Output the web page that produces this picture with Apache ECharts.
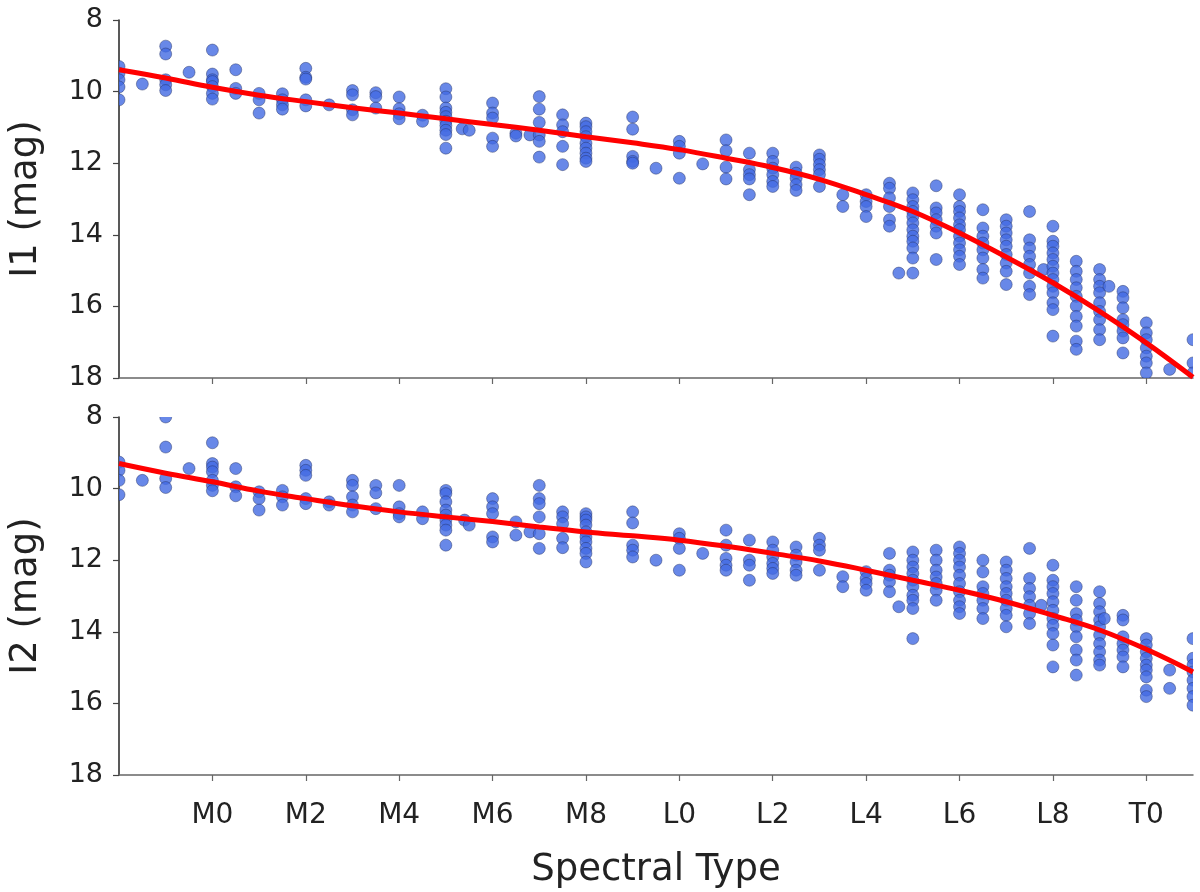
<!DOCTYPE html>
<html>
<head>
<meta charset="utf-8">
<script src="https://cdn.jsdelivr.net/npm/echarts@6/dist/echarts.min.js"></script>
<style>
html,body{margin:0;padding:0;background:#fff;}
#chart{width:1200px;height:892px;}
</style>
</head>
<body>
<div id="chart"></div>
<script>
// ---- Data ----
var tickValues = [0, 2, 4, 6, 8, 10, 12, 14, 16, 18, 20];
var tickLabels = ['M0', 'M2', 'M4', 'M6', 'M8', 'L0', 'L2', 'L4', 'L6', 'L8', 'T0'];

// [spectral type index, magnitude]
var i1Points = [
  [-2,9.30],[-2,9.49],[-2,9.67],[-2,9.87],[-2,10.23],
  [-1.5,9.79],
  [-1,8.73],[-1,8.95],[-1,9.67],[-1,9.81],[-1,9.97],
  [-0.5,9.46],
  [0,8.84],[0,9.51],[0,9.67],[0,9.72],[0,9.86],[0,10.05],[0,10.21],
  [0.5,9.39],[0.5,9.91],[0.5,10.05],
  [1,10.05],[1,10.23],[1,10.60],
  [1.5,10.06],[1.5,10.23],[1.5,10.37],[1.5,10.49],
  [2,9.35],[2,9.60],[2,9.65],[2,10.23],[2,10.40],
  [2.5,10.37],
  [3,9.97],[3,10.09],[3,10.51],[3,10.65],
  [3.5,10.03],[3.5,10.14],[3.5,10.46],
  [4,10.15],[4,10.48],[4,10.62],[4,10.76],
  [4.5,10.66],[4.5,10.83],
  [5,9.92],[5,10.15],[5,10.46],[5,10.58],[5,10.70],[5,10.83],[5,10.95],[5,11.08],[5,11.20],[5,11.58],
  [5.35,11.04],[5.5,11.08],
  [6,10.32],[6,10.60],[6,10.74],[6,11.30],[6,11.53],
  [6.5,11.16],[6.5,11.24],[6.8,11.21],
  [7,10.14],[7,10.49],[7,10.86],[7,11.21],[7,11.39],[7,11.83],
  [7.5,10.65],[7.5,10.93],[7.5,11.12],[7.5,11.53],[7.5,12.04],
  [8,10.88],[8,10.98],[8,11.12],[8,11.26],[8,11.44],[8,11.58],[8,11.72],[8,11.86],[8,11.95],
  [9,10.71],[9,11.05],[9,11.81],[9,11.95],[9,12.00],
  [9.5,12.14],
  [10,11.39],[10,11.53],[10,11.72],[10,12.42],
  [10.5,12.02],
  [11,11.35],[11,11.65],[11,12.11],[11,12.44],
  [11.5,11.72],[11.5,12.18],[11.5,12.32],[11.5,12.44],[11.5,12.88],
  [12,11.72],[12,11.95],[12,12.14],[12,12.32],[12,12.51],[12,12.65],
  [12.5,12.11],[12.5,12.28],[12.5,12.42],[12.5,12.60],[12.5,12.76],
  [13,11.77],[13,11.89],[13,12.04],[13,12.18],[13,12.32],[13,12.65],
  [13.5,12.88],[13.5,13.21],
  [14,12.88],[14,13.07],[14,13.21],[14,13.49],
  [14.5,12.56],[14.5,12.70],[14.5,12.97],[14.5,13.21],[14.5,13.58],[14.5,13.76],
  [14.7,15.07],
  [15,12.83],[15,13.02],[15,13.21],[15,13.35],[15,13.49],[15,13.67],[15,13.86],[15,14.04],[15,14.18],[15,14.37],[15,14.65],[15,15.07],
  [15.5,12.63],[15.5,13.25],[15.5,13.39],[15.5,13.58],[15.5,13.76],[15.5,13.95],[15.5,14.69],
  [16,12.88],[16,13.21],[16,13.35],[16,13.53],[16,13.72],[16,13.86],[16,14.04],[16,14.23],[16,14.42],[16,14.60],[16,14.83],
  [16.5,13.30],[16.5,13.81],[16.5,14.04],[16.5,14.23],[16.5,14.42],[16.5,14.65],[16.5,14.97],[16.5,15.21],
  [17,13.58],[17,13.76],[17,13.95],[17,14.14],[17,14.32],[17,14.55],[17,14.79],[17,15.02],[17,15.39],
  [17.5,13.35],[17.5,14.14],[17.5,14.37],[17.5,14.60],[17.5,14.83],[17.5,15.07],[17.5,15.44],[17.5,15.67],
  [17.8,14.97],
  [18,13.76],[18,14.18],[18,14.32],[18,14.51],[18,14.69],[18,14.88],[18,15.07],[18,15.25],[18,15.44],[18,15.62],[18,15.90],[18,16.09],[18,16.83],
  [18.5,14.74],[18.5,15.02],[18.5,15.25],[18.5,15.48],[18.5,15.72],[18.5,15.99],[18.5,16.28],[18.5,16.55],[18.5,16.97],[18.5,17.20],
  [19,14.97],[19,15.25],[19,15.44],[19,15.62],[19,15.90],[19,16.14],[19,16.37],[19,16.65],[19,16.93],
  [19.2,15.44],
  [19.5,15.58],[19.5,15.76],[19.5,16.04],[19.5,16.37],[19.5,16.51],[19.5,16.69],[19.5,16.88],[19.5,17.30],
  [20,16.46],[20,16.74],[20,16.93],[20,17.16],[20,17.39],[20,17.58],[20,17.86],
  [20.5,17.76],
  [21,16.93],[21,17.58],[21,17.86]
];

var i2Points = [
  [-2,9.26],[-2,9.49],[-2,9.77],[-2,10.17],
  [-1.5,9.77],
  [-1,8.0],[-1,8.84],[-1,9.72],[-1,9.97],
  [-0.5,9.44],
  [0,8.72],[0,9.30],[0,9.40],[0,9.53],[0,9.77],[0,9.91],[0,10.06],
  [0.5,9.44],[0.5,9.95],[0.5,10.20],
  [1,10.09],[1,10.28],[1,10.60],
  [1.5,10.05],[1.5,10.23],[1.5,10.46],
  [2,9.35],[2,9.49],[2,9.63],[2,10.28],[2,10.42],
  [2.5,10.37],[2.5,10.46],
  [3,9.77],[3,9.91],[3,10.23],[3,10.46],[3,10.65],
  [3.5,9.91],[3.5,10.12],[3.5,10.56],
  [4,9.91],[4,10.51],[4,10.70],[4,10.79],
  [4.5,10.65],[4.5,10.84],
  [5,10.05],[5,10.14],[5,10.37],[5,10.60],[5,10.74],[5,10.88],[5,11.02],[5,11.16],[5,11.58],
  [5.4,10.88],[5.5,11.02],
  [6,10.28],[6,10.51],[6,10.70],[6,11.35],[6,11.49],
  [6.5,10.93],[6.5,11.30],[6.8,11.21],
  [7,9.91],[7,10.28],[7,10.42],[7,10.79],[7,11.26],[7,11.67],
  [7.5,10.65],[7.5,10.79],[7.5,10.98],[7.5,11.39],[7.5,11.65],
  [8,10.70],[8,10.79],[8,10.88],[8,11.02],[8,11.21],[8,11.35],[8,11.49],[8,11.67],[8,11.81],[8,12.05],
  [9,10.65],[9,10.96],[9,11.58],[9,11.72],[9,11.91],
  [9.5,12.00],
  [10,11.26],[10,11.39],[10,11.67],[10,12.28],
  [10.5,11.81],
  [11,11.16],[11,11.58],[11,11.95],[11,12.14],[11,12.28],
  [11.5,11.44],[11.5,12.00],[11.5,12.14],[11.5,12.56],
  [12,11.49],[12,11.72],[12,11.91],[12,12.09],[12,12.23],[12,12.37],
  [12.5,11.63],[12.5,11.86],[12.5,12.05],[12.5,12.28],[12.5,12.42],
  [13,11.39],[13,11.58],[13,11.72],[13,12.28],
  [13.5,12.46],[13.5,12.74],
  [14,12.32],[14,12.51],[14,12.65],[14,12.84],
  [14.5,11.81],[14.5,12.28],[14.5,12.42],[14.5,12.60],[14.5,12.88],
  [14.7,13.30],
  [15,11.77],[15,12.00],[15,12.19],[15,12.37],[15,12.56],[15,12.74],[15,12.98],[15,13.12],[15,13.35],[15,14.19],
  [15.5,11.72],[15.5,12.00],[15.5,12.28],[15.5,12.47],[15.5,12.65],[15.5,12.84],[15.5,13.12],
  [16,11.63],[16,11.81],[16,12.00],[16,12.19],[16,12.42],[16,12.65],[16,12.88],[16,13.12],[16,13.30],[16,13.49],
  [16.5,12.00],[16.5,12.33],[16.5,12.74],[16.5,12.93],[16.5,13.12],[16.5,13.35],[16.5,13.63],
  [17,12.05],[17,12.28],[17,12.51],[17,12.74],[17,12.93],[17,13.12],[17,13.35],[17,13.54],[17,13.86],
  [17.5,11.67],[17.5,12.51],[17.5,12.79],[17.5,13.02],[17.5,13.26],[17.5,13.49],[17.5,13.77],
  [17.75,13.26],
  [18,12.14],[18,12.56],[18,12.74],[18,12.93],[18,13.16],[18,13.40],[18,13.63],[18,13.82],[18,14.05],[18,14.37],[18,14.98],
  [18.5,12.74],[18.5,13.12],[18.5,13.49],[18.5,13.67],[18.5,13.86],[18.5,14.14],[18.5,14.51],[18.5,14.79],[18.5,15.21],
  [19,12.88],[19,13.21],[19,13.44],[19,13.67],[19,13.86],[19,14.09],[19,14.33],[19,14.56],[19,14.79],[19,14.93],
  [19.1,13.63],
  [19.5,13.54],[19.5,13.67],[19.5,14.14],[19.5,14.33],[19.5,14.51],[19.5,14.70],[19.5,14.98],
  [20,14.19],[20,14.37],[20,14.56],[20,14.74],[20,14.93],[20,15.07],[20,15.26],[20,15.63],[20,15.81],
  [20.5,15.07],[20.5,15.58],
  [21,14.19],[21,14.74],[21,14.93],[21,15.12],[21,15.35],[21,15.58],[21,15.81],[21,16.05]
];

// fitted relation, read at integer spectral types
var curveX = [-2,-1,0,1,2,3,4,5,6,7,8,9,10,11,12,13,14,15,16,17,18,19,20,21];
var i1Fit = [9.39,9.62,9.88,10.10,10.28,10.45,10.60,10.76,10.92,11.08,11.26,11.43,11.62,11.86,12.12,12.45,12.88,13.35,13.95,14.62,15.34,16.14,17.02,17.98];
var i2Fit = [9.30,9.57,9.81,10.07,10.28,10.48,10.65,10.79,10.92,11.07,11.21,11.32,11.44,11.61,11.81,12.02,12.28,12.56,12.84,13.16,13.54,13.95,14.49,15.12];

// ---- Chart ----
var FONT = 'DejaVu Sans';
var chart = echarts.init(document.getElementById('chart'), null, {renderer: 'canvas'});

function pairs(xs, ys) { return xs.map(function (x, i) { return [x, ys[i]]; }); }

function dotRender(params, api) {
  var p = api.coord([api.value(0), api.value(1)]);
  return {
    type: 'circle',
    shape: {cx: p[0], cy: p[1], r: 6},
    style: {fill: 'rgba(66,106,226,0.80)', stroke: 'rgba(35,45,95,0.55)', lineWidth: 0.8}
  };
}

function xAxisCfg(idx, showLabels) {
  return {
    type: 'value', gridIndex: idx, min: -2, max: 21,
    splitLine: {show: false},
    axisLine: {show: true, onZero: false, lineStyle: {color: '#666', width: 1.5}},
    axisTick: {show: true, customValues: tickValues, length: 6, lineStyle: {color: '#666', width: 1.2}},
    axisLabel: {
      show: showLabels, customValues: tickValues, margin: 27,
      fontFamily: FONT, fontSize: 28, color: '#222',
      formatter: function (v) { var i = tickValues.indexOf(v); return i >= 0 ? tickLabels[i] : ''; }
    },
    name: showLabels ? 'Spectral Type' : '',
    nameLocation: 'middle', nameGap: 77,
    nameTextStyle: {fontFamily: FONT, fontSize: 37, color: '#222'}
  };
}

function yAxisCfg(idx, name) {
  return {
    type: 'value', gridIndex: idx, inverse: true, min: 8, max: 18, interval: 2,
    splitLine: {show: false},
    axisLine: {show: true, onZero: false, lineStyle: {color: '#222', width: 1.5}},
    axisTick: {show: true, length: 6, lineStyle: {color: '#444', width: 1.2}},
    axisLabel: {fontFamily: FONT, fontSize: 27, color: '#222', margin: 16},
    name: name, nameLocation: 'middle', nameGap: 74,
    nameTextStyle: {fontFamily: FONT, fontSize: 37, color: '#222'}
  };
}

chart.setOption({
  animation: false,
  backgroundColor: '#fff',
  grid: [
    {left: 119, right: 7, top: 20, height: 358},
    {left: 119, right: 7, top: 417, height: 358}
  ],
  xAxis: [xAxisCfg(0, false), xAxisCfg(1, true)],
  yAxis: [yAxisCfg(0, 'I1 (mag)'), yAxisCfg(1, 'I2 (mag)')],
  series: [
    {type: 'custom', xAxisIndex: 0, yAxisIndex: 0, data: i1Points, renderItem: dotRender, clip: true, encode: {x: 0, y: 1}, z: 2},
    {type: 'custom', xAxisIndex: 1, yAxisIndex: 1, data: i2Points, renderItem: dotRender, clip: true, encode: {x: 0, y: 1}, z: 2},
    {type: 'line', xAxisIndex: 0, yAxisIndex: 0, data: pairs(curveX, i1Fit), smooth: 0.4, symbol: 'none', clip: true,
     lineStyle: {color: '#ff0000', width: 5}, z: 5},
    {type: 'line', xAxisIndex: 1, yAxisIndex: 1, data: pairs(curveX, i2Fit), smooth: 0.4, symbol: 'none', clip: true,
     lineStyle: {color: '#ff0000', width: 5}, z: 5}
  ]
});
</script>
</body>
</html>
